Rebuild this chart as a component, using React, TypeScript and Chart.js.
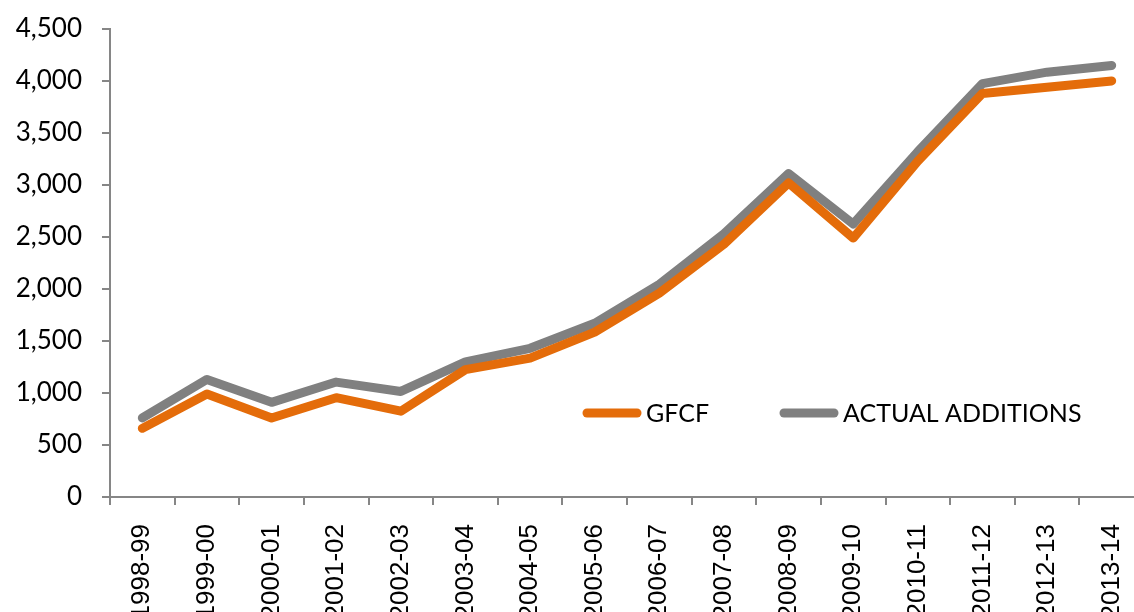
import React, { useEffect, useRef } from "react";
import { Chart, registerables } from "chart.js";

Chart.register(...registerables);

const categories = [
  "1998-99", "1999-00", "2000-01", "2001-02", "2002-03", "2003-04", "2004-05", "2005-06",
  "2006-07", "2007-08", "2008-09", "2009-10", "2010-11", "2011-12", "2012-13", "2013-14",
];
const gfcf = [660, 990, 760, 955, 825, 1225, 1335, 1585, 1960, 2430, 3020, 2490, 3230, 3880, 3940, 4000];
const actualAdditions = [760, 1130, 910, 1105, 1015, 1300, 1430, 1670, 2045, 2530, 3110, 2625, 3320, 3975, 4085, 4150];
const seriesNames = ["GFCF", "ACTUAL ADDITIONS"];
const seriesColors = ["#E46C0A", "#808080"];
const yTicks = { min: 0, max: 4500, step: 500 };

const legendPlugin = {
  id: "insideLegend",
  afterDraw(chart: any) {
    const ctx = chart.ctx;
    const area = chart.chartArea;
    const y = 413;
    const items = [
      { x: area.left + 473, i: 0 },
      { x: area.left + 670, i: 1 },
    ];
    ctx.save();
    items.forEach(({ x, i }) => {
      ctx.strokeStyle = seriesColors[i];
      ctx.lineWidth = 9;
      ctx.lineCap = "round";
      ctx.beginPath();
      ctx.moveTo(x + 4, y);
      ctx.lineTo(x + 54, y);
      ctx.stroke();
      ctx.fillStyle = "#000";
      ctx.font = "25px Lato";
      ctx.textBaseline = "middle";
      ctx.textAlign = "left";
      ctx.fillText(seriesNames[i], x + 63, y + 1);
    });
    ctx.restore();
  },
};

export default function App() {
  const ref = useRef<HTMLCanvasElement | null>(null);
  useEffect(() => {
    if (!ref.current) return;
    const chart = new Chart(ref.current, {
      type: "line",
      data: {
        labels: categories,
        datasets: [
          {
            label: seriesNames[0],
            data: gfcf,
            borderColor: seriesColors[0],
            backgroundColor: seriesColors[0],
            borderWidth: 9,
            pointRadius: 0,
            borderCapStyle: "round",
            borderJoinStyle: "round",
            tension: 0,
          },
          {
            label: seriesNames[1],
            data: actualAdditions,
            borderColor: seriesColors[1],
            backgroundColor: seriesColors[1],
            borderWidth: 9,
            pointRadius: 0,
            borderCapStyle: "round",
            borderJoinStyle: "round",
            tension: 0,
          },
        ],
      },
      options: {
        responsive: false,
        animation: false,
        layout: { padding: { top: 29, right: 2, left: 0, bottom: 0 } },
        plugins: { legend: { display: false }, tooltip: { enabled: false } },
        scales: {
          x: {
            offset: true,
            grid: {
              offset: true,
              drawOnChartArea: false,
              drawTicks: true,
              tickLength: 8,
              color: "#868686",
              lineWidth: 2,
            },
            border: { color: "#868686", width: 2 },
            ticks: {
              minRotation: 90,
              maxRotation: 90,
              autoSkip: false,
              padding: 19,
              color: "#000",
              font: { family: "Liberation Sans", size: 26 },
            },
            afterFit(scale: any) {
              scale.height = 115;
              scale.paddingLeft = 0;
              scale.paddingRight = 0;
            },
          },
          y: {
            min: yTicks.min,
            max: yTicks.max,
            grid: {
              drawOnChartArea: false,
              drawTicks: true,
              tickLength: 8,
              color: "#868686",
              lineWidth: 2,
            },
            border: { color: "#868686", width: 2 },
            ticks: {
              stepSize: yTicks.step,
              padding: 20,
              color: "#000",
              font: { family: "Lato", size: 26 },
              callback: (v: any) => Number(v).toLocaleString("en-US"),
            },
            afterFit(scale: any) {
              scale.width = 110;
              scale.paddingTop = 0;
              scale.paddingBottom = 0;
            },
          },
        },
      },
      plugins: [legendPlugin],
    });
    return () => chart.destroy();
  }, []);
  return (
    <div style={{ position: "fixed", left: 0, top: 0, width: 1134, height: 612, overflow: "hidden", background: "#fff" }}>
      <canvas ref={ref} width={1146} height={612} style={{ display: "block" }} />
    </div>
  );
}
